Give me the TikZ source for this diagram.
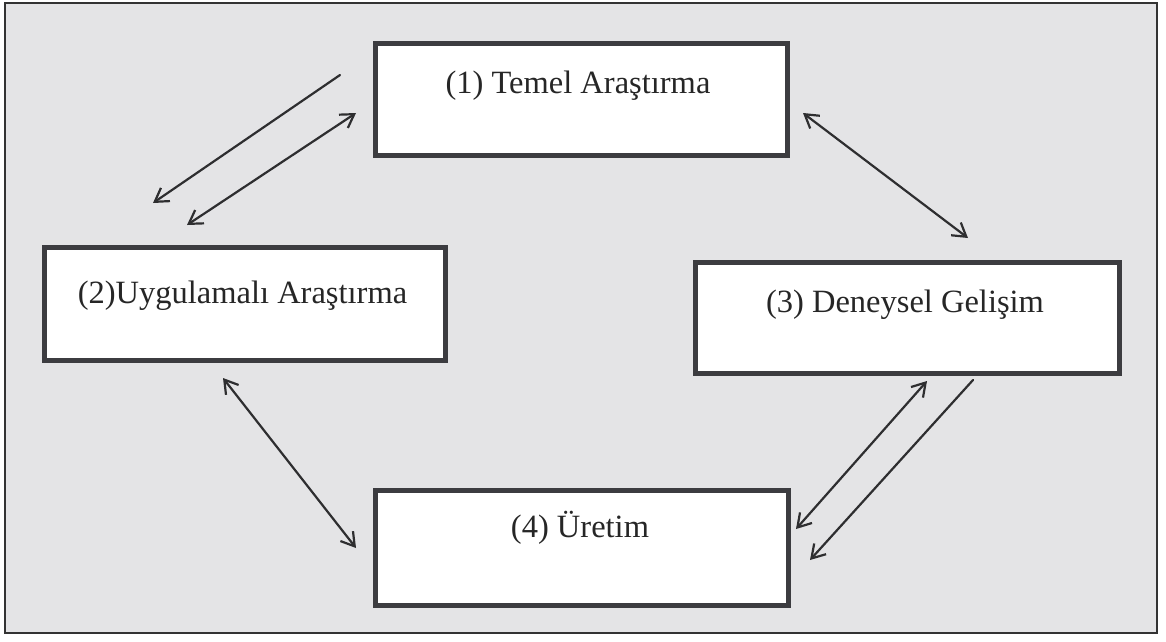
\documentclass[tikz,border=0pt]{standalone}
\usepackage{fontspec}
\setmainfont{Liberation Serif}
\usetikzlibrary{arrows.meta}
\definecolor{bgc}{HTML}{E4E4E6}
\definecolor{edge}{HTML}{3C3C40}
\definecolor{arr}{HTML}{2E2E30}
\tikzset{
  box/.style={draw=edge, line width=5pt, fill=white, rectangle, inner sep=0pt},
  lbl/.style={font=\fontsize{32.5}{36}\selectfont, anchor=base, inner sep=0pt, text=black!85},
  conn/.style={draw=arr, line width=2.2pt, line cap=round},
  tip/.style={-{Straight Barb[length=13pt,width=16pt,line width=2.2pt]}},
  tips/.style={{Straight Barb[length=13pt,width=16pt,line width=2.2pt]}-{Straight Barb[length=13pt,width=16pt,line width=2.2pt]}}
}
\begin{document}
\begin{tikzpicture}[x=1pt,y=-1pt]
\useasboundingbox (0,0) rectangle (1166,641);
\node[draw=black!80, line width=2pt, fill=bgc, rectangle, inner sep=0pt, minimum width=1152pt, minimum height=630pt, anchor=north west] (frame) at (4,2) {};
% boxes
\node[box, minimum width=412pt, minimum height=112pt, anchor=north west] (b1) at (373,41) {};
\node[box, minimum width=401pt, minimum height=113pt, anchor=north west] (b2) at (42,245) {};
\node[box, minimum width=424pt, minimum height=111pt, anchor=north west] (b3) at (693,260) {};
\node[box, minimum width=413pt, minimum height=115pt, anchor=north west] (b4) at (373,488) {};
% labels
\node[lbl] (t1) at (578,93) {(1) Temel Araştırma};
\node[lbl] (t2) at (242.5,303) {(2)Uygulamalı Araştırma};
\node[lbl] (t3) at (905,312) {(3) Deneysel Gelişim};
\node[lbl] (t4) at (580,537) {(4) Üretim};
% connector ends
\coordinate (a1s) at (340,75);  \coordinate (a1e) at (153,203);
\coordinate (a2s) at (187,225); \coordinate (a2e) at (356,113);
\coordinate (a3s) at (803,113); \coordinate (a3e) at (968,238);
\coordinate (a4s) at (223,378); \coordinate (a4e) at (356,548);
\coordinate (a5s) at (927,381); \coordinate (a5e) at (796,529);
\coordinate (a6s) at (973,380); \coordinate (a6e) at (810,560);
% connectors
\draw[conn, tip] (a1s) -- (a1e);
\draw[conn, tips] (a2s) -- (a2e);
\draw[conn, tips] (a3s) -- (a3e);
\draw[conn, tips] (a4s) -- (a4e);
\draw[conn, tips] (a5s) -- (a5e);
\draw[conn, tip] (a6s) -- (a6e);
\end{tikzpicture}
\end{document}
